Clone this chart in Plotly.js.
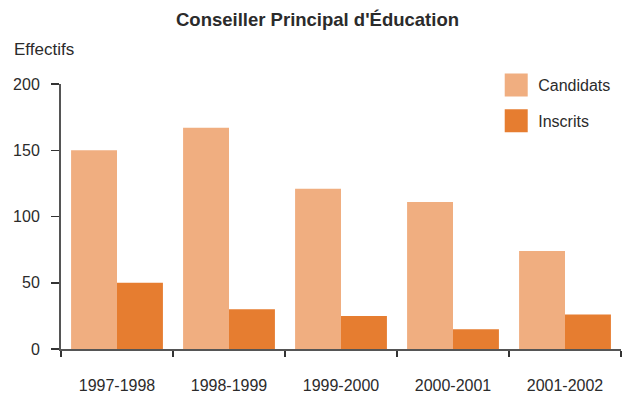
<!DOCTYPE html>
<html>
<head>
<meta charset="utf-8">
<script src="https://cdn.plot.ly/plotly-3.0.1.min.js"></script>
<style>
  html, body { margin: 0; padding: 0; background: #fff; }
  #chart { width: 635px; height: 397px; }
</style>
</head>
<body>
<div id="chart"></div>
<script>
// Effectifs du concours de CPE par session
const years = ['1997-1998', '1998-1999', '1999-2000', '2000-2001', '2001-2002'];
const candidats = [150, 167, 121, 111, 74];
const inscrits = [50, 30, 25, 15, 26];
const seriesNames = ['Candidats', 'Inscrits'];
const yTicks = [0, 50, 100, 150, 200];

const FONT = '"Liberation Sans", Arial, sans-serif';
const TEXT = '#2b2b2b';
const AXIS = '#555555';

// boundaries between categories, used for the upward tick marks
const boundaries = years.map((_, i) => i - 0.5).concat([years.length - 0.5]);

const traces = [
  {
    type: 'bar', name: seriesNames[0], x: years, y: candidats,
    marker: { color: '#F0AE80', line: { width: 0 } },
    legendgroup: 'a', hoverinfo: 'x+y'
  },
  {
    type: 'bar', name: seriesNames[1], x: years, y: inscrits,
    marker: { color: '#E67D30', line: { width: 0 } },
    legendgroup: 'b', hoverinfo: 'x+y'
  }
];

const layout = {
  width: 635, height: 397,
  margin: { l: 61, r: 14, t: 84, b: 48 },
  paper_bgcolor: '#ffffff', plot_bgcolor: '#ffffff',
  font: { family: FONT, size: 16, color: TEXT },
  title: {
    text: "Conseiller Principal d'Éducation",
    font: { family: FONT, size: 18.5, weight: 'bold', color: TEXT },
    x: 0.5, xref: 'container', xanchor: 'center',
    y: 1 - 20 / 397, yref: 'container', yanchor: 'middle'
  },
  barmode: 'group', bargap: 0.18, bargroupgap: 0,
  showlegend: true,
  legend: {
    x: 0.7736, xanchor: 'left', y: 1.060, yanchor: 'top',
    font: { family: FONT, size: 16, color: TEXT },
    itemwidth: 34,
    tracegroupgap: 12, bgcolor: 'rgba(0,0,0,0)', borderwidth: 0
  },
  xaxis: {
    type: 'category', categoryorder: 'array', categoryarray: years,
    range: [-0.5, years.length - 0.5],
    showline: true, linecolor: AXIS, linewidth: 2,
    ticks: 'outside', tickson: 'boundaries', ticklen: 6, tickwidth: 1.5, tickcolor: '#333',
    showgrid: false, zeroline: false,
    ticklabelstandoff: 21,
    tickfont: { family: FONT, size: 16, color: TEXT },
    fixedrange: true
  },
  xaxis2: {
    overlaying: 'x', anchor: 'y', side: 'bottom',
    type: 'linear', range: [-0.5, years.length - 0.5],
    tickmode: 'array', tickvals: boundaries,
    ticks: 'inside', ticklen: 6, tickwidth: 1.5, tickcolor: '#333',
    showticklabels: false, showline: false, showgrid: false, zeroline: false,
    fixedrange: true
  },
  yaxis: {
    range: [0, 200], tickmode: 'array', tickvals: yTicks,
    showline: true, linecolor: AXIS, linewidth: 2,
    ticks: 'outside', ticklen: 8, tickwidth: 1.5, tickcolor: '#333',
    showgrid: false, zeroline: false,
    ticklabelstandoff: 8,
    tickfont: { family: FONT, size: 16, color: TEXT },
    fixedrange: true
  },
  annotations: [{
    text: 'Effectifs', xref: 'paper', yref: 'paper',
    x: -49 / 560, xanchor: 'left', y: (349 - 49) / 265, yanchor: 'middle',
    showarrow: false, font: { family: FONT, size: 17, color: TEXT }
  }]
};

Plotly.newPlot('chart', traces, layout, { displayModeBar: false, staticPlot: true }).then(() => {
  // larger square swatches in the legend
  document.querySelectorAll('#chart .legend .legendpoints path').forEach(p => {
    p.setAttribute('d', 'M11.5,11.5H-11.5V-11.5H11.5Z');
  });
});
</script>
</body>
</html>
